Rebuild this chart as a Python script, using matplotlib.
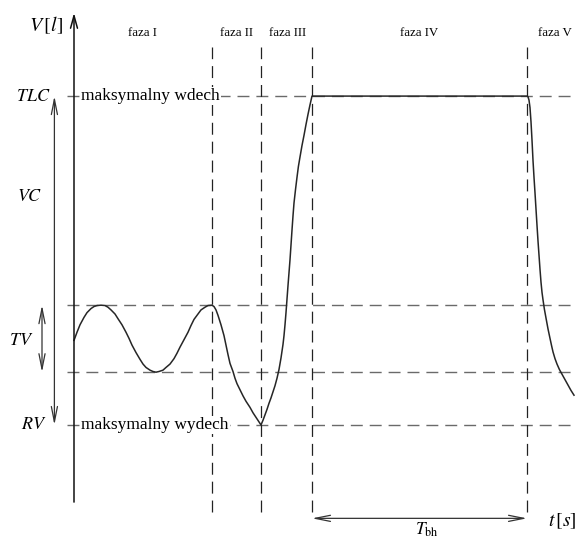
import numpy as np
import matplotlib
matplotlib.use("Agg")
import matplotlib.pyplot as plt

plt.rcParams['font.family'] = ['Liberation Serif', 'DejaVu Serif']
plt.rcParams['mathtext.fontset'] = 'stix'
plt.rcParams['lines.scale_dashes'] = False

# poziomy objetosci [l]
TLC = 6.0
TV_top = 2.91
TV_bot = 1.92
RV = 1.14

# granice faz [s]
phase_edges = [6.9, 9.35, 11.9, 22.65]
phase_names = ['faza I', 'faza II', 'faza III', 'faza IV', 'faza V']
phase_label_t = [3.4, 8.1, 10.7, 17.25, 24.05]

# przebieg objetosci w czasie
t = np.array([
    0.0, 0.15, 0.3, 0.5, 0.65, 0.85, 1.0, 1.15, 1.35, 1.55, 1.7, 1.85, 2.05,
    2.2, 2.4, 2.6, 2.75, 2.9, 3.1, 3.3, 3.45, 3.6, 3.8, 3.95, 4.1, 4.25,
    4.45, 4.6, 4.8, 5.0, 5.15, 5.3, 5.5, 5.7, 5.85, 6.0, 6.2, 6.35, 6.55,
    6.7, 6.9,
    7.0, 7.1, 7.2, 7.35, 7.5, 7.6, 7.7, 7.8, 7.95, 8.05, 8.15, 8.3, 8.45,
    8.6, 8.8, 8.95, 9.15, 9.35,
    9.45, 9.55, 9.65, 9.75, 9.85, 9.95, 10.05, 10.15, 10.25, 10.35, 10.45,
    10.5, 10.55, 10.6, 10.65, 10.7, 10.75, 10.8, 10.85, 10.9, 10.95, 11.0,
    11.08, 11.15, 11.22, 11.3, 11.4, 11.5, 11.6, 11.7, 11.8, 11.9,
    22.65, 22.7, 22.75, 22.8, 22.85, 22.9, 22.95, 23.0, 23.05, 23.1, 23.15,
    23.2, 23.25, 23.3, 23.35, 23.4, 23.45, 23.52, 23.6, 23.7, 23.8, 23.88,
    23.95, 24.05, 24.15, 24.27, 24.4, 24.55, 24.7, 24.85, 25.0
])
v = np.array([
    2.39, 2.51, 2.62, 2.73, 2.80, 2.86, 2.89, 2.905, 2.91, 2.905, 2.88, 2.84, 2.78,
    2.71, 2.62, 2.51, 2.42, 2.32, 2.21, 2.11, 2.04, 1.99, 1.95, 1.93, 1.92, 1.93,
    1.95, 1.99, 2.04, 2.12, 2.20, 2.29, 2.40, 2.51, 2.61, 2.70, 2.78, 2.84, 2.88,
    2.905, 2.91,
    2.89, 2.84, 2.76, 2.62, 2.46, 2.32, 2.18, 2.05, 1.93, 1.83, 1.75, 1.66, 1.57,
    1.49, 1.40, 1.32, 1.23, 1.14,
    1.21, 1.29, 1.37, 1.46, 1.54, 1.63, 1.72, 1.83, 1.96, 2.13, 2.33,
    2.46, 2.62, 2.80, 3.00, 3.20, 3.39, 3.58, 3.80, 4.02, 4.23, 4.42,
    4.63, 4.80, 4.96, 5.10, 5.27, 5.42, 5.58, 5.73, 5.87, 6.0,
    6.0, 5.99, 5.94, 5.83, 5.62, 5.35, 5.05, 4.80, 4.57, 4.33, 4.09,
    3.86, 3.65, 3.44, 3.25, 3.10, 2.99, 2.85, 2.72, 2.56, 2.42, 2.31,
    2.22, 2.12, 2.04, 1.96, 1.89, 1.81, 1.73, 1.65, 1.58
])

fig = plt.figure(figsize=(5.77, 5.40), dpi=100)
ax = fig.add_axes([0, 0, 1, 1])
ax.set_xlim(-3.7, 25.15)
ax.set_ylim(-0.56, 7.42)
ax.axis('off')

dash = (8.6, 5.0)
# poziome linie pomocnicze
for lev in [TLC, TV_top, TV_bot, RV]:
    ax.plot([-0.35, 25.2], [lev, lev], color='#6a6a6a', lw=1.0, dashes=dash, zorder=1)
# pionowe linie faz
for e in phase_edges:
    ax.plot([e, e], [-0.15, 6.72], color='#222222', lw=0.9, dashes=dash, zorder=1)

# osie
arr = dict(arrowstyle='->,head_length=0.9,head_width=0.25', color='#111111', lw=1.1,
           shrinkA=0, shrinkB=0)
ax.annotate('', xy=(0, 7.23), xytext=(0, 0), arrowprops=arr, zorder=5)
ax.annotate('', xy=(25.4, 0), xytext=(0, 0), arrowprops=arr, zorder=5)

# krzywa
ax.plot(t, v, color='#262626', lw=1.1, zorder=3, solid_joinstyle='round')

# strzalki VC, TV, Tbh
darr = dict(arrowstyle='<->,head_length=1.1,head_width=0.22', color='#333333', lw=0.9,
            shrinkA=0, shrinkB=0)
ax.annotate('', xy=(-0.98, TLC), xytext=(-0.98, RV), arrowprops=darr)
ax.annotate('', xy=(-1.6, TV_top), xytext=(-1.6, TV_bot), arrowprops=darr)
ax.annotate('', xy=(phase_edges[2], -0.24), xytext=(phase_edges[3], -0.24), arrowprops=darr)

# opisy
ax.text(-1.4, 7.05, r'$V\,[l]$', fontsize=14.5, ha='center', va='center')
ax.text(-2.05, TLC, r'$TLC$', fontsize=13, ha='center', va='center')
ax.text(-2.2, 4.51, r'$VC$', fontsize=13, ha='center', va='center')
ax.text(-2.65, 2.39, r'$TV$', fontsize=13, ha='center', va='center')
ax.text(-2.0, RV, r'$RV$', fontsize=13, ha='center', va='center')
ax.text(24.4, -0.28, r'$t\,[s]$', fontsize=14, ha='center', va='center')
ax.text(17.65, -0.41, r'$T_{\mathrm{bh}}$', fontsize=12.5, ha='center', va='center')

box = dict(facecolor='white', edgecolor='none', pad=1.0)
ax.text(0.35, TLC, 'maksymalny wdech', fontsize=12.5, ha='left', va='center',
        bbox=box, zorder=2)
ax.text(0.35, RV, 'maksymalny wydech', fontsize=12.5, ha='left', va='center',
        bbox=box, zorder=2)

for name, tx in zip(phase_names, phase_label_t):
    ax.text(tx, 6.93, name, fontsize=9.3, ha='center', va='center')

fig.savefig('out.png', dpi=100)
